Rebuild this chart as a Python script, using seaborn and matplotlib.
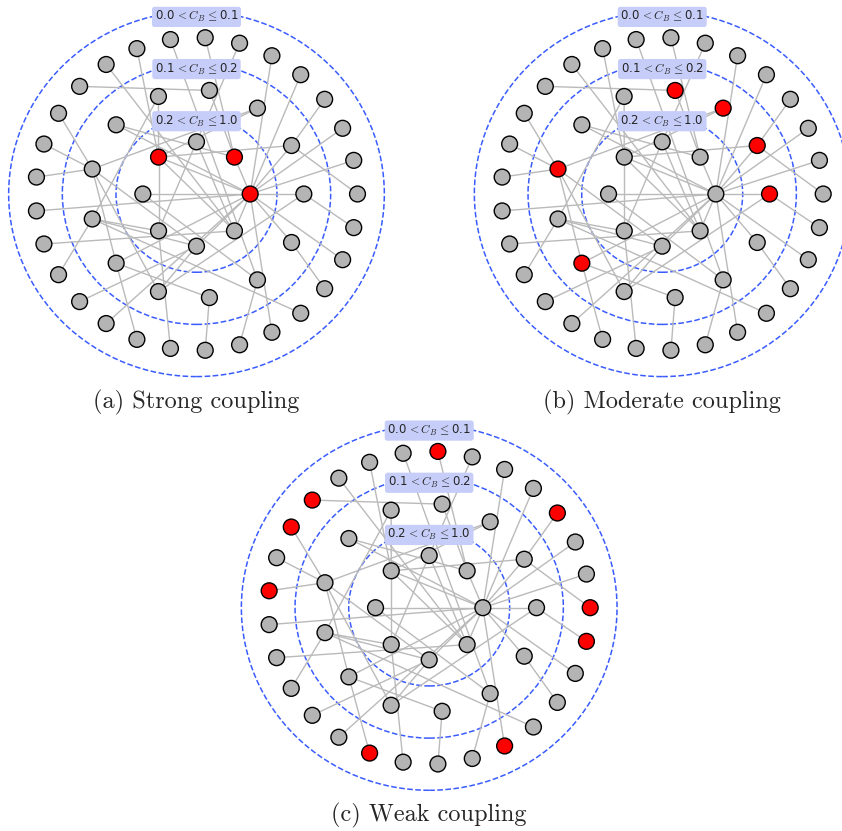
import numpy as np
import pandas as pd
import matplotlib.pyplot as plt
import seaborn as sns
from matplotlib.collections import LineCollection
from matplotlib.patches import Circle

# shells of the layout: inner, middle, outer
ring_names = ['I', 'M', 'O']
ring_sizes = [8, 13, 29]
ring_radii = [1 / 3, 2 / 3, 1.0]
shell_bounds = [0.5, 5 / 6, 7 / 6]
shell_labels = [r'0.2$\,{<}C_B\,{\leq}$1.0', r'0.1$\,{<}C_B\,{\leq}$0.2', r'0.0$\,{<}C_B\,{\leq}$0.1']

# same network in every panel
edges = [
    ('O0', 'M1'), ('O1', 'I0'), ('O2', 'I0'), ('O3', 'M1'), ('O4', 'I0'), ('O5', 'I0'),
    ('O6', 'I2'), ('O7', 'I1'), ('O8', 'M11'), ('O9', 'I3'), ('O10', 'I7'), ('O11', 'M3'),
    ('O12', 'M6'), ('O13', 'M6'), ('O14', 'M6'), ('O15', 'I0'), ('O16', 'I7'), ('O17', 'M7'),
    ('O18', 'I6'), ('O19', 'I0'), ('O20', 'M8'), ('O21', 'I5'), ('O22', 'M10'), ('O23', 'M11'),
    ('O24', 'I0'), ('O25', 'M7'), ('O26', 'M12'), ('O27', 'I0'), ('O28', 'M0'),
    ('M0', 'I0'), ('M0', 'M9'), ('M1', 'I0'), ('M1', 'I3'), ('M2', 'M6'), ('M2', 'I3'),
    ('M3', 'I1'), ('M4', 'I3'), ('M4', 'M7'), ('M5', 'I1'), ('M5', 'I0'),
    ('M6', 'I6'), ('M6', 'M8'), ('M6', 'M9'), ('M7', 'I5'), ('M7', 'I6'),
    ('M8', 'I0'), ('M8', 'M10'), ('M9', 'I6'), ('M11', 'I4'), ('M12', 'I0'),
    ('I0', 'I1'), ('I0', 'I3'), ('I0', 'I4'), ('I0', 'I6'), ('I0', 'I7'),
    ('I2', 'I5'), ('I2', 'I7'), ('I3', 'I5'), ('I3', 'I7'),
]

# synchronised (red) nodes per coupling strength
red_strong = ['I0', 'I1', 'I3']
red_moderate = ['M0', 'M1', 'M2', 'M3', 'M6', 'M8']
red_weak = ['O0', 'O3', 'O7', 'O11', 'O12', 'O14', 'O20', 'O24', 'O28']
captions = ['(a) Strong coupling', '(b) Moderate coupling', '(c) Weak coupling']

sns.set_theme(style='white')
plt.rcParams['font.family'] = ['DejaVu Sans']
plt.rcParams['mathtext.fontset'] = 'cm'

W, H = 842, 831
fig = plt.figure(figsize=(W / 100, H / 100), dpi=100)

def node_table(red):
    rows = []
    for name, n, r in zip(ring_names, ring_sizes, ring_radii):
        for k in range(n):
            a = 2 * np.pi * k / n
            node = f'{name}{k}'
            rows.append(dict(node=node, x=r * np.cos(a), y=r * np.sin(a),
                             state='sync' if node in red else 'normal'))
    return pd.DataFrame(rows)

# panel centres in pixels, px per unit (x, y)
centres = [(196.5, 194), (662.2, 194), (429.2, 607.7)]
sx, sy = 161, 156.5
L = 1.3

for (cx, cy), red, cap in zip(centres, [red_strong, red_moderate, red_weak], captions):
    w, h = 2 * L * sx, 2 * L * sy
    ax = fig.add_axes([(cx - w / 2) / W, (H - cy - h / 2) / H, w / W, h / H])
    ax.patch.set_alpha(0)
    df = node_table(red)
    pos = df.set_index('node')[['x', 'y']]
    segs = [[pos.loc[a].values, pos.loc[b].values] for a, b in edges]
    ax.add_collection(LineCollection(segs, colors='#bababa', linewidths=1.0, zorder=2))
    for r, lab in zip(shell_bounds, shell_labels):
        ax.add_patch(Circle((0, 0), r, fill=False, ec='#3a5cff', ls='--', lw=1.1, zorder=1))
        ax.text(0, r - 0.035, lab, ha='center', va='center', fontsize=8.5, zorder=5,
                bbox=dict(boxstyle='round,pad=0.22', fc='#c6cdf8', ec='none'))
    sns.scatterplot(data=df, x='x', y='y', hue='state',
                    palette={'normal': '#b4b4b4', 'sync': '#ff0000'},
                    s=130, edgecolor='black', linewidth=1.0, legend=False, ax=ax, zorder=3)
    ax.set_xlim(-L, L)
    ax.set_ylim(-L, L)
    ax.axis('off')
    cap_y = cy + 208
    fig.text(cx / W, 1 - cap_y / H, cap, ha='center', va='center', fontsize=17.5, family='cmr10')

fig.savefig('out.png', dpi=100)
